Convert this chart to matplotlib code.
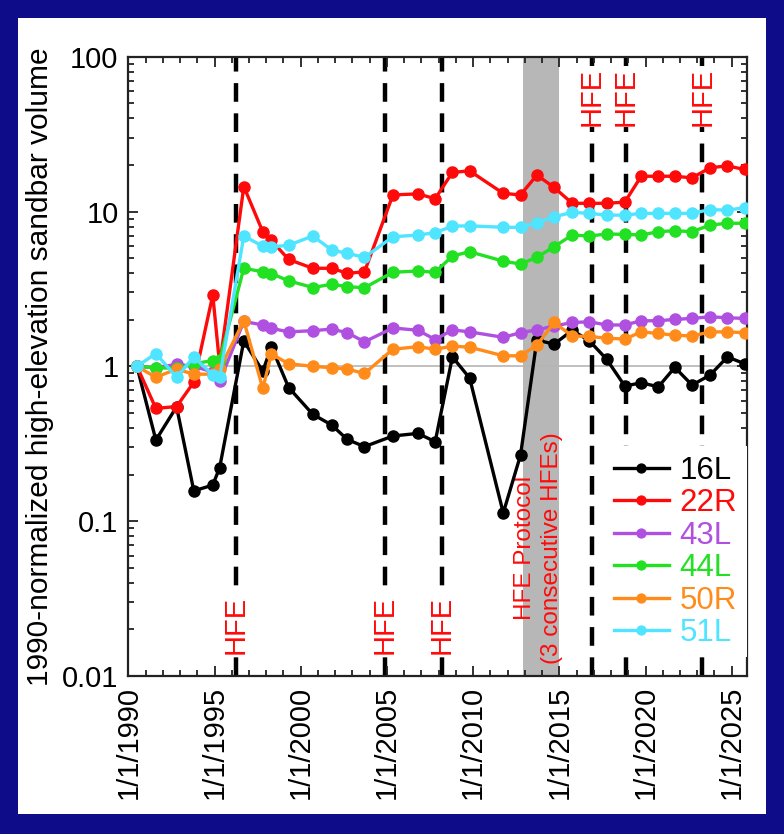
import matplotlib
matplotlib.use("Agg")
import matplotlib.pyplot as plt
from matplotlib.patches import Rectangle
from matplotlib.ticker import FixedLocator, LogLocator, NullFormatter, FixedFormatter

plt.rcParams['font.family'] = ['Liberation Sans', 'DejaVu Sans']

# Survey dates (decimal years)
survey_year = [1990.5, 1991.6, 1992.8, 1993.8, 1994.9, 1995.3, 1996.7, 1997.8,
               1998.3, 1999.3, 2000.7, 2001.8, 2002.7, 2003.7, 2005.35, 2006.8,
               2007.8, 2008.8, 2009.8, 2011.75, 2012.75, 2013.7, 2014.7, 2015.75,
               2016.75, 2017.75, 2018.8, 2019.75, 2020.75, 2021.7, 2022.7,
               2023.75, 2024.75, 2025.75]

site_names = ["16L", "22R", "43L", "44L", "50R", "51L"]
site_colors = ["#000000", "#ff0a0a", "#b050e0", "#22e022", "#ff8c1a", "#4fe4ff"]

vol_16L = [1.0, 0.334, 0.548, 0.157, 0.171, 0.222, 1.46, 0.93, 1.34, 0.73, 0.49,
           0.418, 0.337, 0.303, 0.355, 0.369, 0.326, 1.15, 0.84, 0.113, 0.267,
           1.48, 1.39, 1.71, 1.46, 1.11, 0.746, 0.783, 0.738, 0.985, 0.757,
           0.879, 1.15, 1.04]
vol_22R = [1.0, 0.535, 0.55, 0.79, 2.89, 1.02, 14.5, 7.4, 6.5, 4.9, 4.30, 4.30,
           3.99, 4.08, 12.8, 13.0, 12.1, 17.9, 18.3, 13.1, 12.8, 17.2, 14.3,
           11.3, 11.3, 11.3, 11.5, 16.9, 16.9, 16.9, 16.5, 19.2, 19.7, 18.7]
vol_43L = [1.0, 0.98, 1.03, 1.0, 0.92, 0.80, 1.95, 1.85, 1.76, 1.67, 1.70, 1.74,
           1.65, 1.44, 1.77, 1.71, 1.49, 1.72, 1.67, 1.54, 1.65, 1.72, 1.82,
           1.92, 1.94, 1.85, 1.85, 1.97, 1.97, 2.01, 2.04, 2.09, 2.06, 2.04]
vol_44L = [1.0, 0.98, 0.97, 1.04, 1.09, 1.10, 4.30, 4.08, 3.97, 3.57, 3.23, 3.39,
           3.27, 3.22, 4.05, 4.13, 4.05, 5.16, 5.50, 4.78, 4.58, 5.06, 5.93,
           7.05, 6.95, 7.16, 7.12, 7.05, 7.41, 7.52, 7.41, 8.18, 8.40, 8.40]
vol_50R = [1.0, 0.85, 0.96, 0.89, 0.89, 0.96, 1.97, 0.72, 1.20, 1.04, 1.0, 0.98,
           0.96, 0.90, 1.29, 1.34, 1.29, 1.35, 1.33, 1.17, 1.17, 1.37, 1.92,
           1.57, 1.56, 1.52, 1.50, 1.67, 1.63, 1.59, 1.57, 1.67, 1.67, 1.65]
vol_51L = [1.0, 1.21, 0.85, 1.15, 0.88, 0.85, 6.95, 5.97, 5.90, 6.06, 6.95, 5.64,
           5.37, 5.06, 6.87, 7.05, 7.30, 8.05, 8.08, 7.91, 7.91, 8.47, 9.25,
           9.88, 9.73, 9.48, 9.48, 9.73, 9.73, 9.73, 9.73, 10.3, 10.2, 10.6]

site_volumes = [vol_16L, vol_22R, vol_43L, vol_44L, vol_50R, vol_51L]

# High-flow experiments (decimal years)
hfe_lower = [1996.24, 2004.87, 2008.2]
hfe_upper = [2016.87, 2018.87, 2023.3]
protocol_span = (2012.87, 2015.0)

tick_years = [1990, 1995, 2000, 2005, 2010, 2015, 2020, 2025]
tick_labels = ["1/1/%d" % y for y in tick_years]
y_ticks = [0.01, 0.1, 1, 10, 100]
y_labels = ["0.01", "0.1", "1", "10", "100"]

W, H = 784, 834
fig = plt.figure(figsize=(W / 100, H / 100), dpi=100)
fig.patch.set_facecolor("#0e0c88")
panel = Rectangle((18 / W, 1 - 814 / H), (766 - 18) / W, (814 - 18) / H,
                  transform=fig.transFigure, facecolor="white",
                  edgecolor="none", zorder=-10)
fig.add_artist(panel)

ax = fig.add_axes([128.3 / W, 1 - 676 / H, (746.7 - 128.3) / W, (676 - 56.7) / H])
ax.set_zorder(1)
ax.set_yscale("log")
ax.set_xlim(1990.0, 2025.87)
ax.set_ylim(0.01, 100)

ax.axvspan(*protocol_span, color="#b7b7b7", lw=0, zorder=0.5)
ax.axhline(1, color="#b5b5b5", lw=1.2, zorder=0.8)

for x in hfe_lower + hfe_upper:
    ax.axvline(x, color="black", lw=3.2, dashes=(4.2, 2.6), zorder=1.5)

for name, color, vals in zip(site_names, site_colors, site_volumes):
    ax.plot(survey_year, vals, "-o", color=color, lw=2.4, ms=8.0,
            label=name, zorder=3)

text_box = dict(facecolor="white", edgecolor="none", pad=1.0)
for x in hfe_lower:
    ax.text(x, 0.0213, "HFE", color="#ff0a0a", fontsize=21, rotation=90,
            ha="center", va="center", bbox=text_box, zorder=2)
for x in hfe_upper:
    ax.text(x, 55, "HFE", color="#ff0a0a", fontsize=21, rotation=90,
            ha="center", va="center", bbox=text_box, zorder=2)

ax.text(2013.0, 0.067, "HFE Protocol", color="#ff0a0a", fontsize=17.5,
        rotation=90, ha="center", va="center", zorder=2.5)
ax.text(2014.6, 0.067, "(3 consecutive HFEs)", color="#ff0a0a", fontsize=17.5,
        rotation=90, ha="center", va="center", zorder=2.5)

ax.xaxis.set_major_locator(FixedLocator(tick_years))
ax.xaxis.set_major_formatter(FixedFormatter(tick_labels))
ax.xaxis.set_minor_locator(FixedLocator(list(range(1990, 2026))))
ax.yaxis.set_major_locator(FixedLocator(y_ticks))
ax.yaxis.set_major_formatter(FixedFormatter(y_labels))
ax.yaxis.set_minor_locator(LogLocator(base=10, subs=range(2, 10)))
ax.yaxis.set_minor_formatter(NullFormatter())

ax.tick_params(which="both", direction="in", top=True, right=True, width=1.3,
               colors="#222222", labelcolor="black")
ax.tick_params(which="major", length=7, labelsize=21, pad=7)
ax.tick_params(which="minor", length=4)
for lbl in ax.get_xticklabels():
    lbl.set_rotation(90)
for sp in ax.spines.values():
    sp.set_linewidth(1.6)
    sp.set_color("#222222")

ax.set_ylabel("1990-normalized high-elevation sandbar volume", fontsize=21.5,
              labelpad=6)

leg = ax.legend(loc="lower right", fontsize=22.5, frameon=True, framealpha=1,
                edgecolor="none", facecolor="white", handlelength=1.75,
                handletextpad=0.35, labelspacing=0.08, borderpad=0.3,
                borderaxespad=0.0, markerscale=0.8, fancybox=False,
                bbox_to_anchor=(1.0, 0.03))
leg.set_zorder(5)
for txt, color in zip(leg.get_texts(), site_colors):
    txt.set_color(color)

fig.savefig("out.png", dpi=100, facecolor=fig.get_facecolor())
